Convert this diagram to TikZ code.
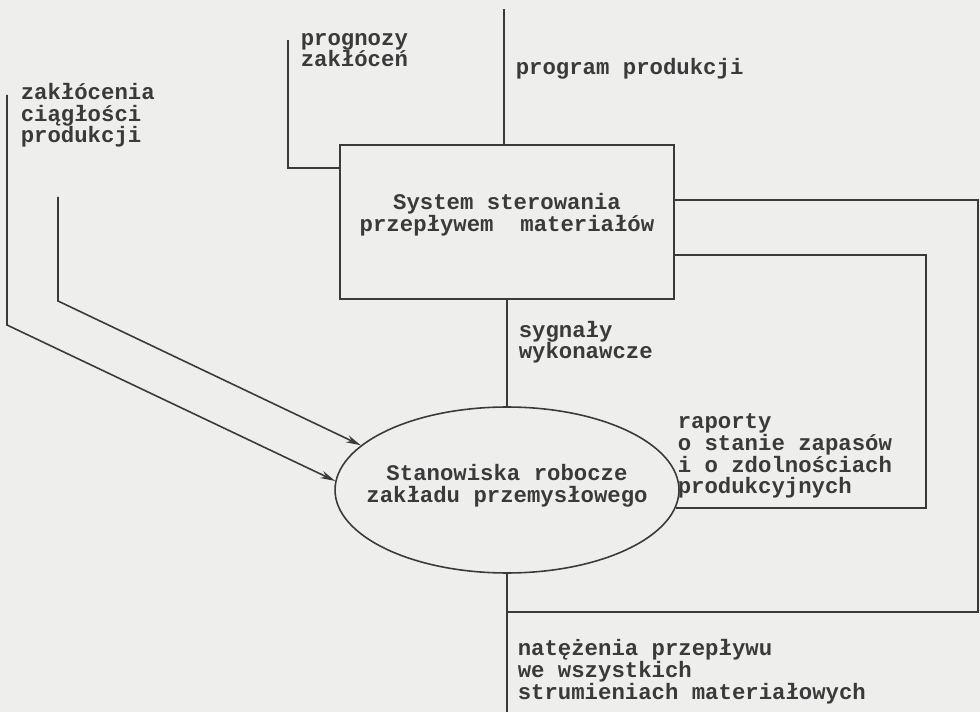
\documentclass[tikz,border=0pt]{standalone}
\usepackage{fontspec}
\setmonofont{Liberation Mono}
\usepackage{tikz}
\usetikzlibrary{shapes.geometric, arrows.meta}
\definecolor{ink}{HTML}{3A3A3A}
\definecolor{paper}{HTML}{EEEEEC}
\tikzset{
  every picture/.style={font={\ttfamily\bfseries\fontsize{12.7}{12.5}\selectfont},
    >={Stealth[length=3mm, width=1.5mm]}}}

\begin{document}
\begin{tikzpicture}[x=0.02cm, y=-0.02cm,
    color=ink, line width=0.9pt,
    sysBox/.style={
      draw, rectangle, align=center,
      minimum width=6.68cm, minimum height=3.08cm,
      inner sep=0pt},
    plant/.style={
      draw, ellipse,
      minimum width=6.88cm, minimum height=3.32cm,
      inner sep=0pt},
    note/.style={anchor=base west, align=left, inner sep=0pt}]

  \fill[paper] (0,0) rectangle (980,712);
  \useasboundingbox (0,0) rectangle (980,712);

  \node[sysBox] (sys) at (507,222) {};
  \node[align=center, inner sep=0pt] (sysT) at ([yshift=0.14cm]sys.center)
    {System sterowania\\przepływem\ \ materiałów};
  \node[plant] (ws) at (507,490) {};
  \node[align=center, inner sep=0pt] (wsT) at ([yshift=0.08cm]ws.center)
    {Stanowiska robocze\\zakładu przemysłowego};

  % opisy strumieni (kotwica: linia bazowa ostatniego wiersza)
  \node[note] (prgT) at (300,67) {prognozy\\zakłóceń};
  \node[note] (progT) at (515,75) {program produkcji};
  \node[note] (zakT) at (20,143) {zakłócenia\\ciągłości\\produkcji};
  \node[note] (sygT) at (518,359) {sygnały\\wykonawcze};
  \node[note] (rapT) at (677,494) {raporty\\o stanie zapasów\\i o zdolnościach\\produkcyjnych};
  \node[note] (natT) at (517,699) {natężenia przepływu\\we wszystkich\\strumieniach materiałowych};

  \coordinate (progTop) at (504,9);
  \coordinate (prgTop) at (288,40);
  \coordinate (zakTop) at (7,95);
  \coordinate (zakBend) at (7,325);
  \coordinate (zakTopB) at (58,197);
  \coordinate (zakBendB) at (58,301);
  \coordinate (rapCorner) at (926,255);
  \coordinate (natCorner) at (978,200);
  \coordinate (natSplit) at (ws.south |- 0,612);
  \coordinate (natEnd) at (ws.south |- 0,712);

  % wejscia do systemu
  \draw (progTop) -- (progTop |- sys.north);
  \draw (prgTop) |- ([yshift=-0.48cm]sys.north west);
  \draw (sys.south) -- (ws.north);

  % zaklocenia
  \draw[->] (zakTop) -- (zakBend) -- (ws.177);
  \draw[->] (zakTopB) -- (zakBendB) -- (ws.163);

  % sprzezenia zwrotne
  \draw (ws.-6) -| (rapCorner) -- (sys.east |- rapCorner);
  \draw (ws.south) -- (natEnd);
  \draw (natSplit) -| (natCorner) -- (sys.east |- natCorner);
\end{tikzpicture}
\end{document}
